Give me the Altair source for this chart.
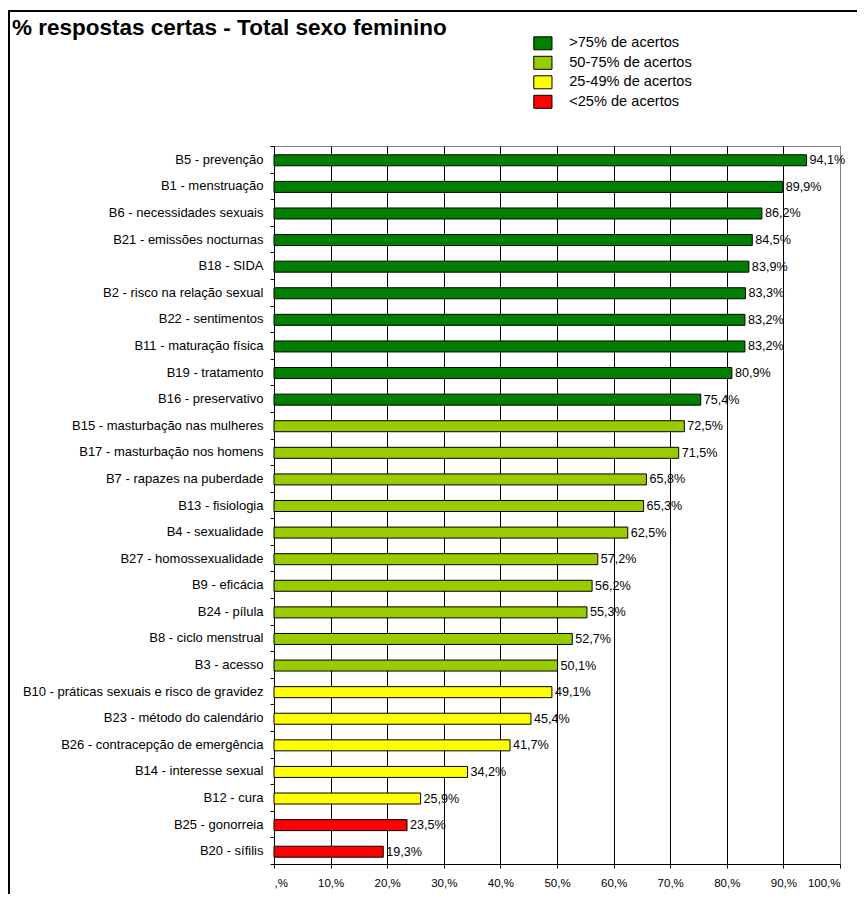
import altair as alt
import pandas as pd

categories = [
    "B5 - prevenção", "B1 - menstruação", "B6 - necessidades sexuais",
    "B21 - emissões nocturnas", "B18 - SIDA", "B2 - risco na relação sexual",
    "B22 - sentimentos", "B11 - maturação física", "B19 - tratamento",
    "B16 - preservativo", "B15 - masturbação nas mulheres",
    "B17 - masturbação nos homens", "B7 - rapazes na puberdade",
    "B13 - fisiologia", "B4 - sexualidade", "B27 - homossexualidade",
    "B9 - eficácia", "B24 - pílula", "B8 - ciclo menstrual", "B3 - acesso",
    "B10 - práticas sexuais e risco de gravidez", "B23 - método do calendário",
    "B26 - contracepção de emergência", "B14 - interesse sexual", "B12 - cura",
    "B25 - gonorreia", "B20 - sífilis",
]
values = [94.1, 89.9, 86.2, 84.5, 83.9, 83.3, 83.2, 83.2, 80.9, 75.4,
          72.5, 71.5, 65.8, 65.3, 62.5, 57.2, 56.2, 55.3, 52.7, 50.1,
          49.1, 45.4, 41.7, 34.2, 25.9, 23.5, 19.3]
groups = [">75% de acertos"] * 10 + ["50-75% de acertos"] * 10 + \
         ["25-49% de acertos"] * 5 + ["<25% de acertos"] * 2
legend_labels = [">75% de acertos", "50-75% de acertos", "25-49% de acertos", "<25% de acertos"]
legend_colors = ["#008000", "#99CC00", "#FFFF00", "#FF0000"]
x_ticks = [0, 10, 20, 30, 40, 50, 60, 70, 80, 90, 100]

df = pd.DataFrame({
    "cat": categories,
    "val": values,
    "grp": groups,
    "label": [f"{v:.1f}".replace(".", ",") + "%" for v in values],
})

FONT = "Liberation Sans"

y_enc = alt.Y("cat:N", sort=None, title=None,
              scale=alt.Scale(paddingInner=0, paddingOuter=0),
              axis=alt.Axis(tickBand="extent", tickSize=4, tickColor="black",
                            domainColor="black", labelFontSize=13,
                            labelColor="black", labelPadding=7, labelFont=FONT,
                            labelLimit=0, grid=False))
x_enc = alt.X("val:Q", title=None,
              scale=alt.Scale(domain=[0, 100], nice=False),
              axis=alt.Axis(values=x_ticks, grid=True,
                            gridColor={"condition": {"test": "datum.value == 100", "value": "#808080"},
                                       "value": "black"},
                            gridOpacity=1, gridWidth=1,
                            tickSize=4, tickColor="black", domainColor="black",
                            labelFontSize=11.5, labelColor="black", labelFont=FONT,
                            labelPadding=9,
                            labelExpr="datum.value == 0 ? ',%' : datum.value + ',%'"))

bars = alt.Chart(df).mark_bar(size=11, stroke="black", strokeWidth=1, yOffset=1).encode(
    y=y_enc, x=x_enc,
    color=alt.Color("grp:N", title=None,
                    scale=alt.Scale(domain=legend_labels, range=legend_colors),
                    legend=alt.Legend(orient="none", legendX=261.6, legendY=-110,
                                      symbolType="M-1.4,-1H1.4V1H-1.4Z",
                                      symbolSize=169, symbolStrokeColor="black",
                                      symbolStrokeWidth=1, symbolOpacity=1,
                                      labelFontSize=14.6, labelFont=FONT,
                                      labelColor="black", labelOffset=19,
                                      rowPadding=1.5, padding=0)),
)

text = alt.Chart(df).mark_text(align="left", baseline="middle", dx=3, dy=1,
                               fontSize=12.6, font=FONT, color="black").encode(
    y=alt.Y("cat:N", sort=None), x=alt.X("val:Q"), text="label:N")

border = alt.Chart(alt.Data(values=[{"a": 1}])).mark_rect(
    fillOpacity=0, stroke="black", strokeWidth=2).encode(
    x=alt.value(-265), x2=alt.value(700), y=alt.value(-135), y2=alt.value(900))

chart = alt.layer(border, bars, text).properties(
    width=566, height=718,
    title=alt.TitleParams("% respostas certas - Total sexo feminino",
                          anchor="start", frame="group", dx=-262, offset=-29,
                          fontSize=22.5, font=FONT, fontWeight="bold", color="black"),
    autosize=alt.AutoSizeParams(type="none"),
    padding={"left": 266, "top": 138, "right": 17, "bottom": 30},
).configure_view(stroke="#808080", strokeWidth=1)

chart.save("out.html", embed_options={"renderer": "svg", "actions": False})
